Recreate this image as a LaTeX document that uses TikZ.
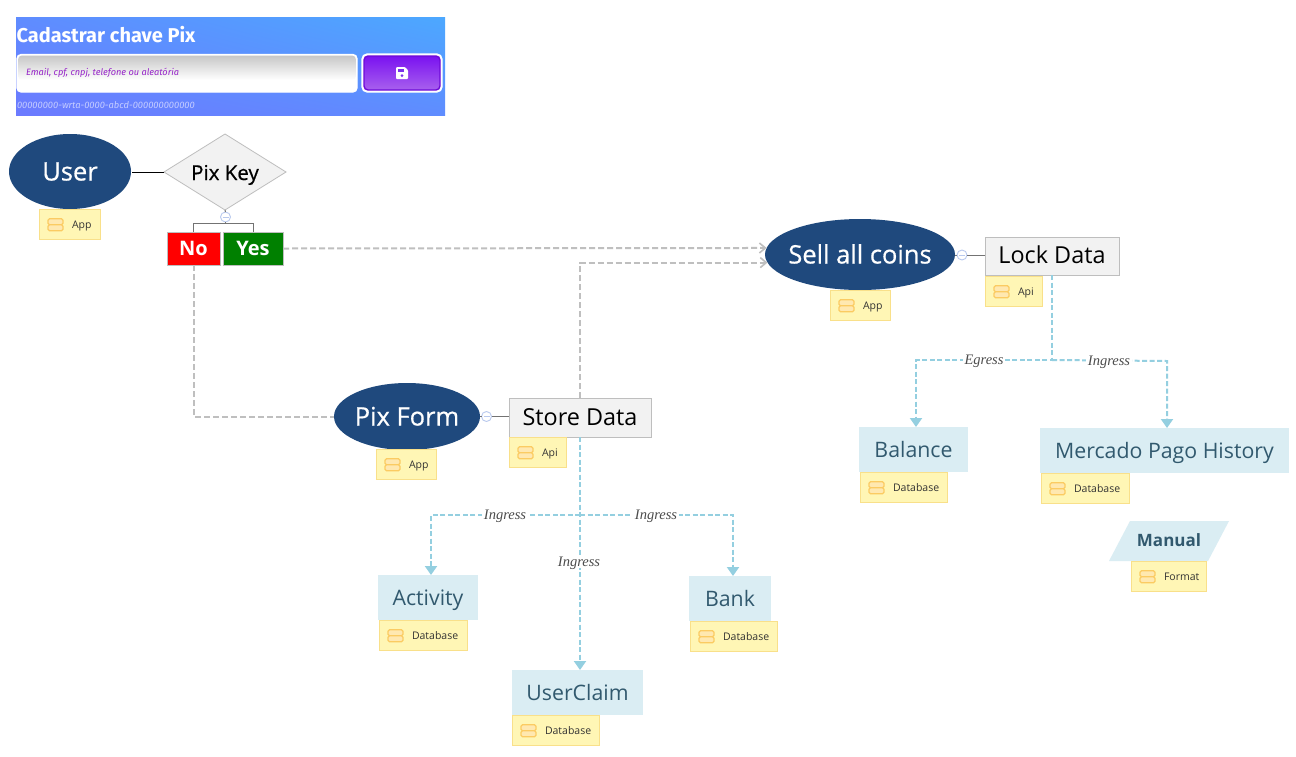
\documentclass[tikz,border=0pt]{standalone}
\usepackage{fontspec}
\setmainfont{Open Sans}
\newfontfamily\firaf{Fira Sans}
\newfontfamily\serifi{Liberation Serif}
\newfontfamily\heavyf[FakeBold=0.6]{Open Sans}
\usetikzlibrary{arrows.meta,shapes.geometric,calc,shadings}
\definecolor{navy}{HTML}{1F497D}
\definecolor{edgeblue}{HTML}{94CFE0}
\definecolor{dbfill}{HTML}{DAEDF3}
\definecolor{dbtext}{HTML}{31596E}
\definecolor{tagfill}{HTML}{FFF6B5}
\definecolor{tagline}{HTML}{F9E08A}
\definecolor{iconline}{HTML}{FBCB62}
\definecolor{iconfill}{HTML}{FFE8B0}
\definecolor{procfill}{HTML}{F2F2F2}
\definecolor{procline}{HTML}{BEBEBE}
\definecolor{dashgray}{HTML}{BFBFBF}
\definecolor{foldline}{HTML}{B9C9EE}
\definecolor{bannerll}{HTML}{6C7AFF}
\definecolor{bannerur}{HTML}{4CA8FF}
\definecolor{bannerlr}{HTML}{5F8CFF}
\definecolor{bannerul}{HTML}{5F8CFF}
\definecolor{purpletop}{HTML}{7A12F0}
\definecolor{purplebot}{HTML}{A860EE}
\definecolor{purpleline}{HTML}{6E0AD7}
\definecolor{purpleicon}{HTML}{7A32EB}
\definecolor{placeholder}{HTML}{9623C8}
\definecolor{idtext}{HTML}{C4CCFF}
\definecolor{yesgreen}{HTML}{008000}
\tikzset{
  x=1pt,y=-1pt,
  every node/.style={inner sep=0pt,outer sep=0pt},
  oval/.style={ellipse,inner xsep=-25pt,fill=navy,text=white,text height=18pt,text depth=0pt,font=\heavyf\fontsize{25.5}{28}\selectfont},
  proc/.style={draw=procline,line width=0.8pt,fill=procfill,text=black,text height=15pt,text depth=0pt,font=\fontsize{23.4}{28}\selectfont},
  dbnode/.style={fill=dbfill,text=dbtext,text height=15.5pt,text depth=0pt,font=\fontsize{21.3}{27}\selectfont},
  tagbox/.style={draw=tagline,line width=0.8pt,fill=tagfill,minimum height=30.5pt,anchor=north west},
  tagtext/.style={text=black!80,text height=9pt,text depth=0pt,font=\fontsize{10.5}{12}\selectfont,anchor=west},
  choice/.style={draw=procline,line width=0.8pt,text=white,minimum height=33pt,text height=13pt,text depth=0pt,font=\bfseries\fontsize{20}{24}\selectfont},
  gdash/.style={draw=dashgray,line width=2pt,dash pattern=on 6pt off 3pt},
  gtip/.style={-{Straight Barb[length=6pt,width=10pt,line width=1.6pt]}},
  bdash/.style={draw=edgeblue,line width=2pt,dash pattern=on 5pt off 2.5pt},
  btip/.style={-{Triangle[length=9pt,width=12pt,fill=edgeblue]}},
  elabel/.style={fill=white,inner xsep=2pt,inner ysep=1pt,text=black!70,text height=9pt,text depth=0pt,font=\serifi\itshape\fontsize{14.5}{16}\selectfont},
  fold/.style={circle,draw=foldline,line width=0.9pt,fill=white,minimum size=10pt},
  stub/.style={draw=black!55,line width=1pt},
}
\newcommand{\tagat}[5]{% name, x, y, width, label
  \node[tagbox,minimum width=#4pt] (#1) at (#2,#3) {};
  \node[tagtext] (#1t) at ($(#1.west)+(33,0)$) {#5};
  \draw[draw=iconline,line width=1.1pt,fill=iconfill,rounded corners=1.5pt]
    ($(#1.west)+(9,-5.5)$) rectangle ($(#1.west)+(24,0.5)$);
  \draw[draw=iconline,line width=1.1pt,fill=iconfill,rounded corners=1.5pt]
    ($(#1.west)+(9,0.5)$) rectangle ($(#1.west)+(24,6.5)$);
}
\begin{document}
\begin{tikzpicture}
\useasboundingbox (0,0) rectangle (1296,756);
\fill[white] (0,0) rectangle (1296,756);

% banner
\shade[shading=bilinear interpolation,lower left=bannerll,upper right=bannerur,lower right=bannerlr,upper left=bannerul]
  (16,17) rectangle (445,115.6);
\node[anchor=west,text=white,font=\firaf\bfseries\fontsize{20}{24}\selectfont] (bannertitle) at (16.5,35) {Cadastrar chave Pix};
\draw[white,line width=1.2pt,rounded corners=4pt,fill=white] (17,54.5) rectangle (357,92);
\shade[rounded corners=4pt,top color=black!22,bottom color=white] (18,55.5) rectangle (356,80);
\node[anchor=west,text=placeholder,font=\firaf\itshape\fontsize{9.2}{11}\selectfont] (placeholdertext) at (26,73) {Email, cpf, cnpj, telefone ou aleatória};
\draw[white,line width=1.2pt,rounded corners=5pt,fill=white] (362,54) rectangle (442,92);
\shade[rounded corners=4pt,top color=purpletop,bottom color=purplebot] (364,56) rectangle (440,90);
\draw[line width=1.4pt,rounded corners=4pt,draw=purpleline] (364,56) rectangle (440,90);
\fill[white,rounded corners=1pt] (396,67) -- (405,67) -- (408,70) -- (408,79) -- (396,79) -- cycle;
\fill[purpleicon] (398,69) rectangle (404,71.5);
\fill[purpleicon] (402,75.5) circle (1.5pt);
\node[anchor=west,text=idtext,font=\firaf\itshape\fontsize{9.35}{12}\selectfont] (bannerid) at (17,105) {00000000-wrta-0000-abcd-000000000000};

% main nodes
\node[oval,minimum width=122pt,minimum height=75pt] (user) at (70,171.5) {User};
\node[diamond,draw=procline,line width=0.8pt,fill=procfill,minimum width=122pt,minimum height=76pt,aspect=1.6,text height=16pt,text depth=0pt,font=\heavyf\fontsize{20.5}{24}\selectfont] (pixkey) at (225,172) {Pix Key};
\node[choice,fill=red,minimum width=53pt] (no) at (193.5,248.5) {No};
\node[choice,fill=yesgreen,minimum width=60pt] (yes) at (253,248.5) {Yes};
\node[oval,minimum width=190pt,minimum height=71pt] (sell) at (860,254.5) {Sell all coins};
\node[proc,minimum width=134pt,minimum height=38pt] (lock) at (1052,256) {Lock Data};
\node[oval,minimum width=146pt,minimum height=67pt] (pixform) at (407,416.5) {Pix Form};
\node[proc,minimum width=142pt,minimum height=39pt] (store) at (580,417.5) {Store Data};
\node[dbnode,minimum width=109pt,minimum height=45pt] (balance) at (913.5,449.5) {Balance};
\node[dbnode,minimum width=249pt,minimum height=45pt] (mp) at (1164.5,450.5) {Mercado Pago History};
\node[dbnode,minimum width=100pt,minimum height=45pt] (activity) at (428,597.5) {Activity};
\node[dbnode,minimum width=82pt,minimum height=45pt] (bank) at (730,598.5) {Bank};
\node[dbnode,minimum width=131pt,minimum height=45pt] (userclaim) at (577.5,692.5) {UserClaim};
\fill[dbfill] (1130,521) -- (1229,521) -- (1208,561) -- (1109,561) -- cycle;
\node[text=dbtext,text height=10pt,text depth=0pt,font=\bfseries\fontsize{17}{20}\selectfont] (manual) at (1169,541) {Manual};

% fold markers
\node[fold] (foldkey) at (225.5,217) {};
\draw[foldline,line width=0.9pt] (222.5,217) -- (228.5,217);
\node[fold] (foldsell) at (962,255) {};
\draw[foldline,line width=0.9pt] (959,255) -- (965,255);
\node[fold] (foldpix) at (486.5,416.5) {};
\draw[foldline,line width=0.9pt] (483.5,416.5) -- (489.5,416.5);

% connectors
\draw[black,line width=1pt] (user.east |- pixkey.west) ++(1,0) -- (pixkey.west);
\draw[stub] (pixkey.south) -- (foldkey.north);
\draw[stub] (foldkey.south) -- ++(0,1) coordinate (treejoin);
\draw[stub] (no.north) -- (no.north |- treejoin) -- (yes.north |- treejoin) -- (yes.north);
\draw[stub] (sell.east |- foldsell.west) -- (foldsell.west);
\draw[stub] (foldsell.east) -- (lock.west |- foldsell.east);
\draw[stub] (pixform.east) -- (foldpix.west);
\draw[stub] (foldpix.east) -- (store.west |- foldpix.east);

\draw[gdash,gtip] (yes.east) -- (sell.176);
\draw[gdash] (no.south) |- (pixform.west);
\draw[gdash,gtip] (store.north) |- (sell.185);

\draw[bdash,btip] (lock.south) |- ($(balance.north)+(2.5,-67)$) -- ($(balance.north)+(2.5,0)$);
\draw[bdash,btip] ($(lock.south)+(0,85)$) -- ($(mp.north)+(2.5,-67)$) -- ($(mp.north)+(2.5,0)$);
\node[elabel] (egress) at (984,360) {Egress};
\node[elabel] (ingress4) at (1109,361) {Ingress};

\draw[bdash,btip] (store.south) -- (userclaim.north -| store.south);
\draw[bdash,btip] ($(store.south)+(0,78)$) -- ($(activity.north)+(3,-60)$) -- ($(activity.north)+(3,0)$);
\draw[bdash,btip] ($(store.south)+(0,78)$) -- ($(bank.north)+(3,-61)$) -- ($(bank.north)+(3,0)$);
\node[elabel] (ingress1) at (505,515) {Ingress};
\node[elabel] (ingress2) at (656,515) {Ingress};
\node[elabel] (ingress3) at (579,562) {Ingress};

% tags
\tagat{taguser}{39}{209}{61}{App}
\tagat{tagsell}{830}{290}{60.5}{App}
\tagat{taglock}{985}{276}{57.5}{Api}
\tagat{tagpix}{376}{449}{60.5}{App}
\tagat{tagstore}{509}{437}{57.5}{Api}
\tagat{tagactivity}{379}{620}{88.5}{Database}
\tagat{tagbank}{690}{621}{87.5}{Database}
\tagat{tagclaim}{512}{715}{87.5}{Database}
\tagat{tagbalance}{860}{472}{87.5}{Database}
\tagat{tagmp}{1041}{473}{88.5}{Database}
\tagat{tagmanual}{1131}{561}{75.5}{Format}
\end{tikzpicture}
\end{document}
